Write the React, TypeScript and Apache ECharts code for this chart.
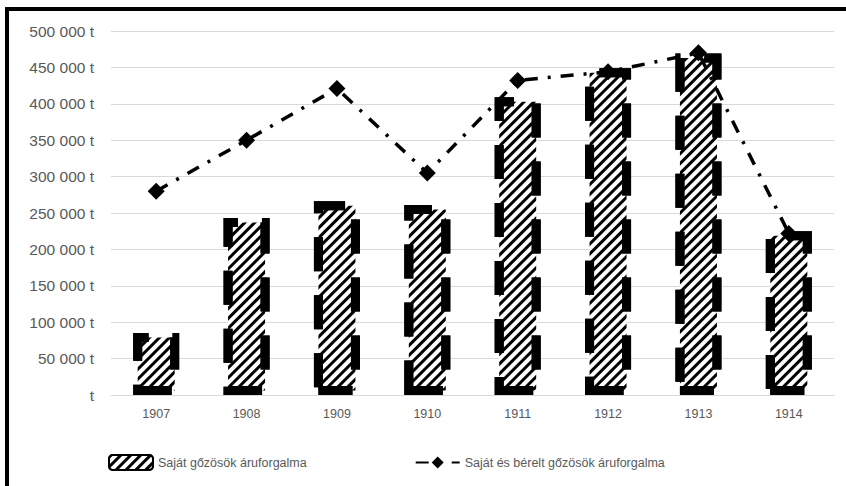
import React, { useEffect, useRef } from "react";
import * as echarts from "echarts";

const years = ["1907", "1908", "1909", "1910", "1911", "1912", "1913", "1914"];
const ownShips = [85000, 243000, 266000, 261000, 409000, 449000, 469000, 225000];
const ownAndChartered = [280000, 350000, 421000, 305000, 432000, 444000, 470000, 222000];
const seriesNames = ["Saját gőzösök áruforgalma", "Saját és bérelt gőzösök áruforgalma"];

const fmt = (v: number) =>
  v === 0 ? "t" : String(v).replace(/\B(?=(\d{3})+(?!\d))/g, " ") + " t";

export default function App() {
  const ref = useRef<HTMLDivElement>(null);
  useEffect(() => {
    if (!ref.current) return;
    const chart = echarts.init(ref.current, undefined, { renderer: "svg" });
    const font = "Liberation Sans";
    chart.setOption({
      animation: false,
      backgroundColor: "#ffffff",
      textStyle: { fontFamily: font },
      graphic: [
        { type: "line", shape: { x1: 5, y1: 9, x2: 846, y2: 9 }, style: { stroke: "#000", lineWidth: 4 } },
        { type: "line", shape: { x1: 7, y1: 7, x2: 7, y2: 486 }, style: { stroke: "#000", lineWidth: 4 } },
      ],
      grid: { left: 111, right: 12, top: 31, bottom: 91 },
      xAxis: {
        type: "category",
        data: years,
        axisLine: { lineStyle: { color: "#d9d9d9" } },
        axisTick: { show: false },
        axisLabel: { color: "#595959", fontSize: 12.5, margin: 12, fontFamily: font },
      },
      yAxis: {
        type: "value",
        min: 0,
        max: 500000,
        interval: 50000,
        axisLine: { show: false },
        axisTick: { show: false },
        splitLine: { lineStyle: { color: "#d9d9d9", width: 1 } },
        axisLabel: { color: "#595959", fontSize: 15.5, margin: 17, formatter: fmt, fontFamily: font },
      },
      legend: {
        bottom: 10,
        left: 103,
        itemGap: 108,
        itemWidth: 44,
        itemHeight: 15,
        textStyle: { color: "#595959", fontSize: 12.5, fontFamily: font },
        data: seriesNames,
      },
      series: [
        {
          name: seriesNames[0],
          type: "bar",
          data: ownShips,
          barWidth: 46,
          itemStyle: {
            color: "#ffffff",
            borderColor: "#000",
            borderWidth: 9,
            borderType: [34, 24],
            decal: {
              symbol: "rect",
              symbolSize: 1,
              dashArrayX: [1, 0],
              dashArrayY: [2.5, 3.2],
              rotation: -Math.PI / 4,
              color: "#000",
            },
          },
        },
        {
          name: seriesNames[1],
          type: "line",
          data: ownAndChartered,
          symbol: "diamond",
          symbolSize: 17,
          itemStyle: { color: "#000" },
          lineStyle: { color: "#000", width: 3.5, type: [13, 10, 3, 10] },
          z: 5,
        },
      ],
    });
    return () => chart.dispose();
  }, []);
  return (
    <div
      ref={ref}
      style={{ position: "fixed", left: 0, top: 0, width: 846, height: 486 }}
    />
  );
}
